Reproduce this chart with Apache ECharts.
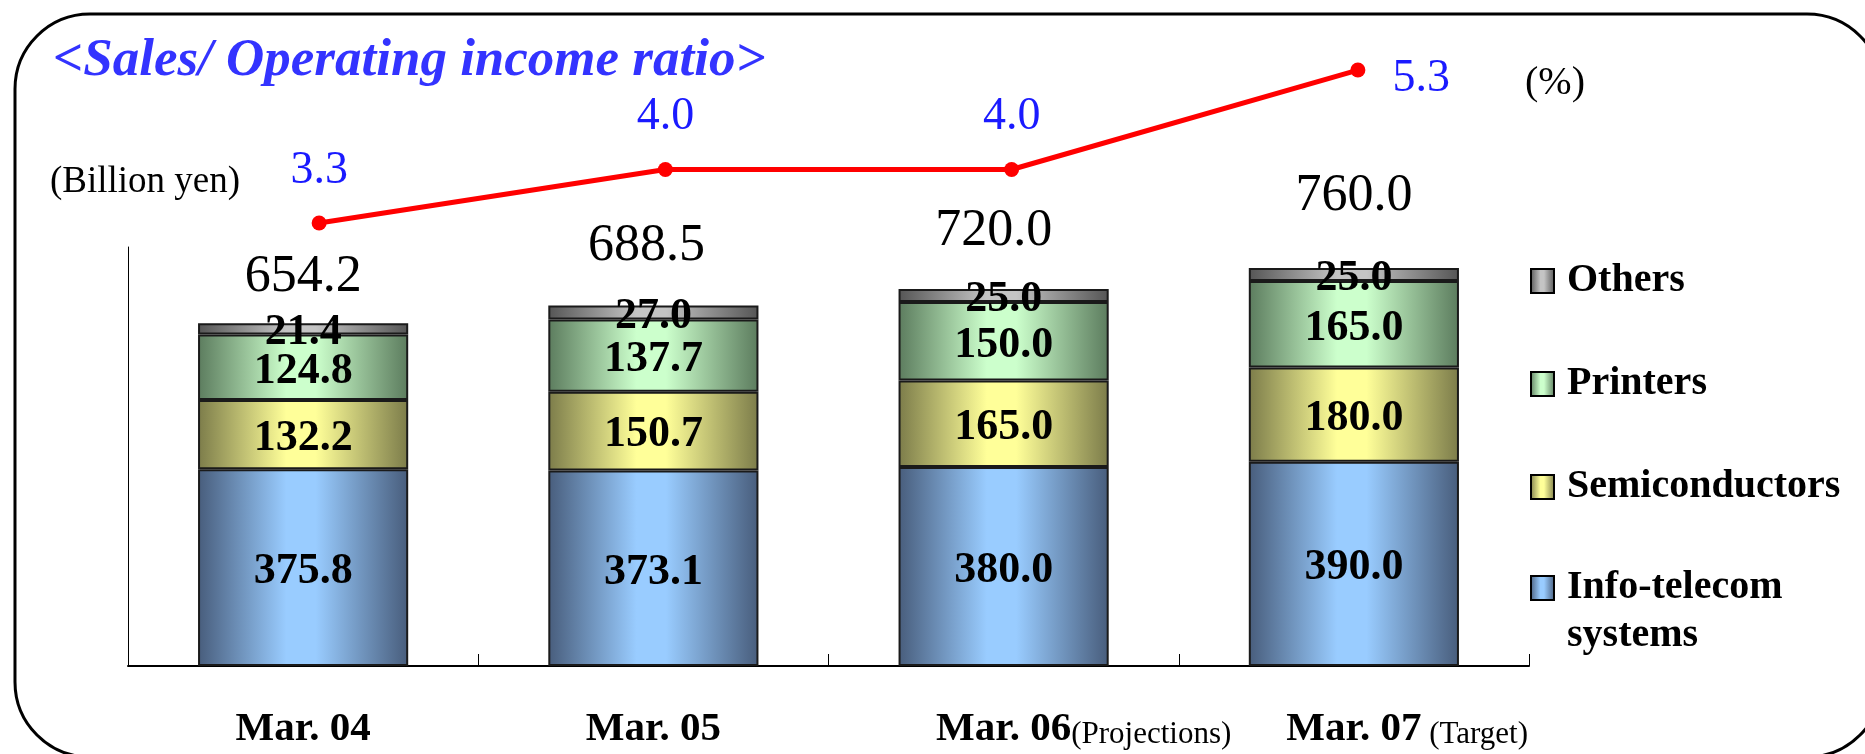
<!DOCTYPE html>
<html><head><meta charset="utf-8">
<script src="https://cdn.jsdelivr.net/npm/echarts@6/dist/echarts.min.js"></script>
<style>html,body{margin:0;padding:0;background:#fff}#c{width:1865px;height:754px}</style>
</head><body><div id="c"></div>
<script>
const categories = ['Mar. 04', 'Mar. 05', 'Mar. 06', 'Mar. 07'];
const categoryNotes = ['', '', '(Projections)', ' (Target)'];
const infoTelecom = [375.8, 373.1, 380.0, 390.0];
const semiconductors = [132.2, 150.7, 165.0, 180.0];
const printers = [124.8, 137.7, 150.0, 165.0];
const others = [21.4, 27.0, 25.0, 25.0];
const totals = [654.2, 688.5, 720.0, 760.0];
const opRatio = [3.3, 4.0, 4.0, 5.3];
const seriesNames = ['Info-telecom systems', 'Semiconductors', 'Printers', 'Others'];

const FONT = '"Liberation Serif","Times New Roman",serif';
const NOTE_SIZE = 31;

function measure(text, font) {
  const c = document.createElement('canvas').getContext('2d');
  c.font = font;
  return c.measureText(text).width;
}
function grad(dark, light) {
  return new echarts.graphic.LinearGradient(0, 0, 1, 0, [
    {offset: 0, color: dark}, {offset: 0.42, color: light},
    {offset: 0.56, color: light}, {offset: 1, color: dark}]);
}
function barSeries(name, data, dark, light) {
  return {
    name: name, type: 'bar', stack: 'total', xAxisIndex: 0, yAxisIndex: 0,
    barWidth: '60%', data: data,
    itemStyle: {color: grad(dark, light), borderColor: '#1a1a1a', borderWidth: 2},
    label: {show: true, position: 'inside', offset: [0, 4], color: '#000', fontFamily: FONT,
      fontWeight: 'bold', fontSize: 44, textBorderWidth: 0,
      formatter: p => p.value.toFixed(1)},
    emphasis: {disabled: true}
  };
}

const rich = {
  b: {fontFamily: FONT, fontSize: 41, fontWeight: 'bold', color: '#000', lineHeight: 41},
  s: {fontFamily: FONT, fontSize: NOTE_SIZE, color: '#000', lineHeight: 31, verticalAlign: 'bottom'}
};
categoryNotes.forEach((n, i) => {
  if (n) rich['sp' + i] = {width: measure(n, NOTE_SIZE + 'px ' + FONT), height: 10};
});

const totalNudge = [[0, 0], [-7, -13], [-10, -11], [0, -25]];

const chart = echarts.init(document.getElementById('c'), null, {renderer: 'canvas'});
chart.setOption({
  animation: false,
  backgroundColor: '#fff',
  graphic: [{type: 'rect', silent: true, z: -10,
    shape: {x: 15, y: 14, width: 1867, height: 743, r: 75},
    style: {fill: 'none', stroke: '#000', lineWidth: 3}}],
  title: [
    {text: '<Sales/ Operating income ratio>', left: 53, top: 35, padding: 0,
      textStyle: {fontFamily: FONT, fontSize: 53, fontWeight: 'bold', fontStyle: 'italic', color: '#3333ff'}},
    {text: '(Billion yen)', left: 50, top: 164, padding: 0,
      textStyle: {fontFamily: FONT, fontSize: 37, fontWeight: 'normal', color: '#000'}},
    {text: '(%)', left: 1525, top: 63, padding: 0,
      textStyle: {fontFamily: FONT, fontSize: 40, fontWeight: 'normal', color: '#000'}}
  ],
  legend: [
    {data: ['Others', 'Printers', 'Semiconductors'], orient: 'vertical', left: 1530, top: 257,
      padding: 0, itemGap: 55, itemWidth: 23, itemHeight: 24, icon: 'rect', selectedMode: false,
      itemStyle: {borderColor: '#000', borderWidth: 2},
      textStyle: {fontFamily: FONT, fontSize: 40, fontWeight: 'bold', color: '#000', lineHeight: 48, padding: [0, 0, 0, 8]}},
    {data: ['Info-telecom systems'], orient: 'vertical', left: 1530, top: 516,
      padding: 0, itemWidth: 23, itemHeight: 24, icon: 'rect', selectedMode: false,
      itemStyle: {borderColor: '#000', borderWidth: 2},
      formatter: () => '\nInfo-telecom\nsystems',
      textStyle: {fontFamily: FONT, fontSize: 40, fontWeight: 'bold', color: '#000', lineHeight: 48, padding: [0, 0, 0, 8]}}
  ],
  grid: [
    {left: 128, right: 336, top: 247, bottom: 88},
    {left: 146, width: 1385, top: 16.5, height: 306}
  ],
  xAxis: [
    {type: 'category', gridIndex: 0, data: categories,
      axisLine: {lineStyle: {color: '#000', width: 2}},
      axisTick: {show: true, inside: true, length: 12, lineStyle: {color: '#000', width: 1}},
      axisLabel: {interval: 0, margin: 43, rich: rich,
        formatter: (v, i) => categoryNotes[i]
          ? '{sp' + i + '|}{b|' + v + '}{s|' + categoryNotes[i] + '}'
          : '{b|' + v + '}'}},
    {type: 'category', gridIndex: 1, data: categories, show: false}
  ],
  yAxis: [
    {type: 'value', gridIndex: 0, min: 0, max: 800,
      axisLine: {show: true, lineStyle: {color: '#000', width: 1}},
      axisTick: {show: false}, axisLabel: {show: false}, splitLine: {show: false}},
    {type: 'value', gridIndex: 1, min: 2, max: 6, show: false}
  ],
  series: [
    barSeries(seriesNames[0], infoTelecom, '#485d7c', '#99ccff'),
    barSeries(seriesNames[1], semiconductors, '#7c7c4a', '#ffff99'),
    barSeries(seriesNames[2], printers, '#5c7c5e', '#ccffcc'),
    barSeries(seriesNames[3], others, '#555555', '#c4c4c4'),
    {type: 'scatter', xAxisIndex: 0, yAxisIndex: 0, symbolSize: 1, silent: true, z: 5,
      itemStyle: {color: 'rgba(0,0,0,0)', opacity: 1},
      data: totals.map((v, i) => ({value: v, label: {offset: totalNudge[i]}})),
      label: {show: true, position: 'top', distance: 20, fontSize: 52, fontFamily: FONT, color: '#000', opacity: 1,
        formatter: p => p.value.toFixed(1)}},
    {type: 'line', name: 'ratio', xAxisIndex: 1, yAxisIndex: 1, z: 10,
      data: opRatio.map((v, i) => i === opRatio.length - 1
        ? {value: v, label: {position: 'right', distance: 27, offset: [0, 9]}} : v),
      symbol: 'circle', symbolSize: 15, itemStyle: {color: '#ff0000'},
      lineStyle: {color: '#ff0000', width: 5},
      label: {show: true, position: 'top', distance: 22, fontSize: 46, fontFamily: FONT, color: '#1a1aff',
        formatter: p => p.value.toFixed(1)}}
  ]
});
</script></body></html>
